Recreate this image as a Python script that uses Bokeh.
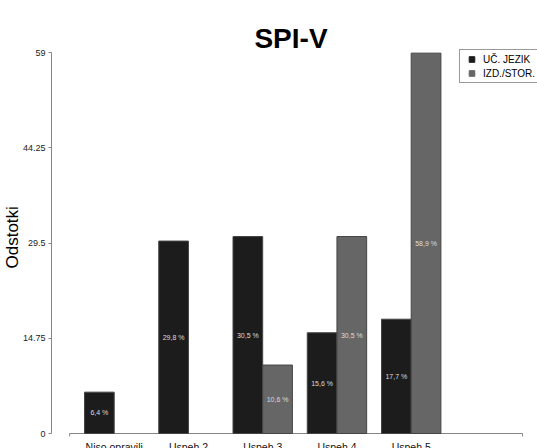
import numpy as np
from bokeh.plotting import figure
from bokeh.models import (ColumnDataSource, Range1d, FixedTicker, Legend,
                          LegendItem, Label, Title)
from bokeh.core.properties import value
from bokeh.embed import file_html
from bokeh.resources import INLINE

# ---------------- data ----------------
chart_title = "SPI-V"
y_title = "Odstotki"
categories = ["Niso opravili", "Uspeh 2", "Uspeh 3", "Uspeh 4", "Uspeh 5"]
series_names = ["UČ. JEZIK", "IZD./STOR."]
uc_jezik = [6.4, 29.8, 30.5, 15.6, 17.7]
izd_stor = [0.0, 0.0, 10.6, 30.5, 58.9]
y_ticks = [0, 14.75, 29.5, 44.25, 59]
y_tick_labels = ["0", "14.75", "29.5", "44.25", "59"]

# ---------------- style ----------------
FONT = "Liberation Sans"
C_BLACK = "#1c1c1c"
C_GRAY = "#666666"
C_EDGE = "#444444"
C_AXIS = "#858585"

# bar-unit layout (R barplot style: bar width 1, group gap 0.5)
group_step = 2.5
group_pos = [1.5 + group_step * i for i in range(len(categories))]

def fmt(v):
    return f"{v:.1f}".replace(".", ",") + " %"

def series_source(vals, offset):
    xs, tops, mids, labels = [], [], [], []
    for g, v in zip(group_pos, vals):
        if v > 0:
            xs.append(g + offset)
            tops.append(v)
            mids.append(v / 2)
            labels.append(fmt(v))
    return ColumnDataSource(dict(x=xs, top=tops, mid=mids, label=labels))

src_a = series_source(uc_jezik, -0.5)
src_b = series_source(izd_stor, 0.5)

p = figure(width=537, height=448, output_backend="svg", toolbar_location=None,
           x_range=Range1d(-0.6111, 15.7525), y_range=Range1d(-2.3228, 67.0525),
           x_axis_location=None, min_border_left=51, min_border_right=0,
           min_border_top=0, min_border_bottom=0)
p.outline_line_color = None
p.grid.visible = False
p.background_fill_color = "white"
p.border_fill_color = "white"

# x axis baseline with end ticks (R style)
x_ends = [0, 15.25]
p.segment(x0=[x_ends[0]], y0=[0], x1=[x_ends[1]], y1=[0], line_color=C_AXIS, line_width=1)
p.segment(x0=x_ends, y0=[0, 0], x1=x_ends, y1=[-0.46, -0.46], line_color=C_AXIS, line_width=1)

for src, col in ((src_a, C_BLACK), (src_b, C_GRAY)):
    p.vbar(x="x", top="top", bottom=0, width=1, source=src,
           fill_color=col, line_color=C_EDGE, line_width=1)
    p.text(x="x", y="mid", text="label", source=src, text_align="center",
           text_baseline="middle", text_font=value(FONT), text_font_size="7px",
           text_color="#dddddd")

# category labels
p.text(x=group_pos, y=[-1.084] * len(group_pos), text=categories,
       text_align="center", text_baseline="top", text_font=value(FONT),
       text_font_size="10.5px", text_color="#111111")

# y axis
ax = p.yaxis[0]
ax.ticker = FixedTicker(ticks=y_ticks)
ax.major_label_overrides = {float(t): l for t, l in zip(y_ticks, y_tick_labels)}
ax.bounds = (y_ticks[0], y_ticks[-1])
ax.major_tick_out = 3
ax.major_tick_in = 0
ax.minor_tick_out = 0
ax.minor_tick_in = 0
ax.major_label_standoff = 3
ax.major_label_text_font = FONT
ax.major_label_text_font_size = "9px"
ax.major_label_text_color = "#222222"
ax.axis_line_color = C_AXIS
ax.major_tick_line_color = C_AXIS

# y axis title (left side panel)
p.add_layout(Title(text=y_title, align="left", offset=180, standoff=-5,
                   text_font=FONT, text_font_size="17px", text_font_style="normal",
                   text_color="#000000"), "left")

# chart title
p.add_layout(Label(x=239.5, y=410, x_units="screen", y_units="screen",
                   text=chart_title, text_align="center", text_baseline="alphabetic",
                   text_font=FONT, text_font_size="28px", text_font_style="bold",
                   text_color="#000000"))

# legend
nan_src = dict(x=[np.nan], y=[np.nan])
r_a = p.scatter(x="x", y="y", source=ColumnDataSource(nan_src), marker="square",
                fill_color=C_BLACK, line_color=C_BLACK)
r_b = p.scatter(x="x", y="y", source=ColumnDataSource(nan_src), marker="square",
                fill_color=C_GRAY, line_color=C_GRAY)
legend = Legend(items=[LegendItem(label=series_names[0], renderers=[r_a]),
                       LegendItem(label=series_names[1], renderers=[r_b])],
                location=(408, 365), margin=0, padding=2, spacing=0,
                glyph_width=19, glyph_height=14, label_height=14, label_standoff=2,
                label_text_font=FONT, label_text_font_size="10px",
                label_text_color="#000000", border_line_color="#333333",
                border_line_width=1, background_fill_color="white",
                background_fill_alpha=1.0)
p.add_layout(legend, "center")

open("out.html", "w").write(file_html(p, INLINE))
